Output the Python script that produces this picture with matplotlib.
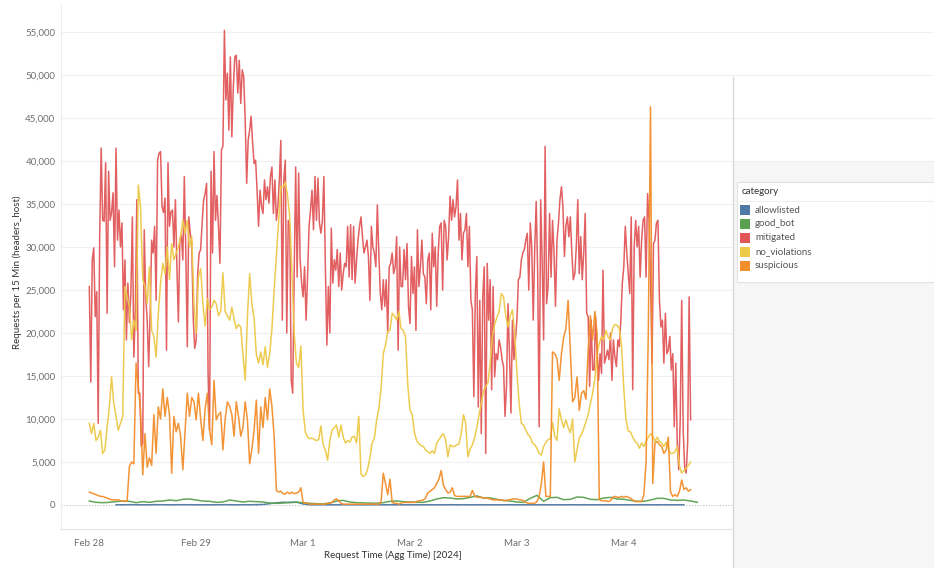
import numpy as np
import pandas as pd
import matplotlib
matplotlib.use("Agg")
import matplotlib.pyplot as plt
import matplotlib.dates as mdates
from matplotlib.patches import Rectangle
from matplotlib.lines import Line2D

plt.rcParams['font.family'] = ['Lato', 'DejaVu Sans']

# ---------------- data (thousands of requests per 15 min) ----------------
categories = ["allowlisted", "good_bot", "mitigated", "no_violations", "suspicious"]
colors = ["#4e79a7", "#59a14f", "#e15759", "#edc948", "#f28e2b"]

# mitigated: 20-minute steps from Feb 28 00:00
mitigated_k = [
    25.4, 14.3, 28.5, 29.9, 21.9, 24.8, 9.5, 31.2, 41.5, 33.1, 33.0, 39.8, 22.3, 38.8, 33.1, 34.0, 36.3, 27.7, 41.5, 30.8,
    34.3, 30.0, 32.8, 22.7, 28.5, 19.2, 25.8, 21.2, 24.6, 33.5, 17.2, 22.7, 35.5, 13.0, 13.0, 6.8, 7.2, 32.0, 24.2, 21.5,
    16.1, 22.3, 30.8, 29.3, 32.4, 23.8, 40.1, 40.9, 41.1, 34.7, 34.0, 35.7, 18.0, 39.8, 32.4, 34.1, 34.3, 30.0, 35.5, 27.7,
    21.3, 30.8, 31.4, 28.5, 38.2, 29.3, 18.4, 33.5, 31.6, 30.5, 21.7,
    18.2, 19.2, 26.9, 29.3, 29.7, 32.8, 35.5, 36.2, 37.4, 15.3, 8.7, 38.8, 29.3, 41.1, 33.1, 36.0, 32.4, 28.1, 41.3, 41.7,
    55.2, 47.1, 50.2, 43.6, 52.1, 42.8, 48.6, 52.1, 52.3, 47.9, 51.7, 46.7, 50.6, 49.8, 44.8, 37.4, 42.4, 43.6, 45.2, 42.1,
    39.7, 40.1, 36.6, 32.4, 36.6, 34.7, 33.9, 37.8, 35.5, 37.0, 35.1, 38.2, 39.3, 33.9, 37.8, 33.1, 34.7, 37.8, 42.4, 21.5,
    37.8, 40.1, 20.0, 33.1, 32.4, 14.5, 13.0, 26.9, 39.3,
    26.5, 38.6, 28.5, 25.8, 24.2, 27.7, 21.5, 26.5, 32.4, 34.3, 36.6, 32.0, 38.2, 33.1, 38.0, 32.8, 31.6, 33.1, 38.2, 27.7,
    18.6, 25.4, 20.0, 32.2, 25.8, 28.5, 27.3, 29.7, 25.4, 29.3, 25.0, 26.9, 28.1, 27.7, 32.4, 26.5, 32.6, 26.2, 32.4, 25.8,
    28.5, 30.8, 32.4, 33.5, 31.2, 29.3, 30.0, 30.8, 28.9, 23.8, 32.4, 30.0, 29.3, 27.7, 34.9, 29.3, 24.6, 22.7, 26.2, 23.1,
    26.2, 20.0, 27.7, 28.1, 29.3, 26.9, 27.7, 31.2, 18.0, 30.0, 25.4,
    25.4, 29.7, 26.2, 30.4, 23.1, 21.1, 28.9, 24.6, 27.7, 20.3, 32.0, 25.4, 27.7, 30.8, 26.9, 26.5, 23.4, 28.5, 29.3, 22.7,
    31.6, 27.7, 30.0, 23.1, 29.3, 32.4, 32.8, 25.0, 33.1, 32.4, 28.5, 31.2, 35.9, 33.1, 35.5, 33.5, 34.7, 37.8, 30.8, 33.9,
    28.5, 31.6, 32.0, 33.9, 27.7, 32.4, 23.8, 22.7, 12.6, 24.6, 28.9, 11.4, 23.8, 8.3, 24.2, 27.7, 6.0, 28.1, 21.5, 26.2,
    13.4, 25.4, 14.9, 17.6, 16.9, 19.2, 18.4, 16.9, 16.1, 10.3,
    13.8, 23.4, 17.6, 10.7, 21.5, 16.9, 19.2, 21.5, 26.2, 26.5, 28.5, 29.3, 29.7, 30.8, 31.6, 25.0, 32.8, 30.0, 21.5, 29.7,
    35.3, 26.9, 9.1, 35.5, 28.5, 19.2, 41.7, 23.4, 25.4, 33.9, 26.5, 33.1, 29.3, 23.1, 30.8, 32.8, 35.5, 37.0, 34.7, 28.9,
    32.4, 33.5, 31.2, 33.5, 29.3, 26.2, 26.9, 30.0, 35.5, 26.9, 31.2, 26.2, 29.3, 33.9, 22.3, 21.9, 13.8, 21.5, 15.7, 15.7,
    21.9, 17.6, 14.5, 17.6, 15.3, 27.3, 16.5, 17.2, 18.0, 16.9,
    20.0, 14.5, 19.2, 17.2, 16.1, 19.2, 18.4, 21.5, 25.8, 27.7, 32.4, 29.3, 26.9, 24.6, 33.5, 13.4, 30.0, 33.1, 30.0, 32.4,
    26.5, 30.8, 33.1, 33.5, 26.5, 36.2, 33.1, 26.2, 16.5, 30.4, 30.8, 32.8, 33.1, 23.8, 20.7, 21.5, 16.5, 22.3, 17.6, 18.0,
    19.6, 15.7, 17.6, 9.1, 16.5, 7.2, 4.1, 9.9, 23.8, 8.7, 4.4, 3.7, 7.2, 24.2, 9.9,
]

# no_violations: 30-minute steps from Feb 28 00:00
no_violations_k = [
    9.5, 8.3, 9.5, 7.5, 7.9, 8.7, 6.0, 6.4, 9.1, 11.4, 14.9, 11.8, 10.3, 8.7, 9.5, 10.3, 25.4, 24.2, 23.1, 19.2,
    21.5, 20.3, 37.2, 34.7, 26.2, 25.4, 23.4, 27.7, 20.3, 19.6, 17.2, 22.3, 25.8, 28.1, 26.9, 30.0, 26.2, 30.4, 28.5, 29.3,
    30.0, 31.2, 33.1, 31.6, 33.1, 30.0, 31.2,
    23.5, 20.0, 26.5, 27.5, 23.4, 20.8, 24.0, 22.7, 23.0, 23.8, 23.4, 22.0, 22.5, 27.0, 22.5, 22.0, 21.5, 23.0, 21.7, 20.5,
    21.0, 20.7, 17.5, 14.5, 21.9, 26.9, 23.4, 21.7, 17.5, 16.5, 17.8, 16.3, 18.4, 16.0, 17.6, 20.5, 25.0, 28.9, 33.0, 37.0,
    37.0, 37.5, 36.0, 33.5, 27.0, 20.0, 16.5,
    16.0, 18.5, 11.0, 8.5, 7.9, 7.7, 7.8, 7.6, 7.5, 7.6, 9.2, 7.0, 6.4, 5.2, 7.5, 8.7, 9.0, 9.3, 7.9, 9.3,
    7.9, 7.2, 7.5, 7.3, 7.9, 8.0, 7.2, 10.3, 3.6, 3.3, 3.5, 4.2, 5.5, 7.2, 7.8, 9.8, 11.2, 13.5, 17.6, 18.6,
    20.2, 20.3, 22.3, 22.0, 21.5, 22.5, 20.5,
    20.3, 19.5, 14.0, 11.0, 10.5, 8.4, 7.5, 7.1, 6.9, 6.8, 6.4, 6.2, 6.0, 6.3, 6.0, 7.2, 7.6, 8.0, 8.3, 7.6,
    5.6, 7.0, 6.8, 6.8, 7.0, 7.1, 8.3, 10.5, 9.5, 5.6, 6.5, 7.0, 7.8, 9.0, 10.5, 11.8, 13.2, 13.8, 14.2, 16.5,
    19.6, 21.0, 21.8, 22.5, 24.6, 24.2, 22.0,
    20.7, 22.0, 22.7, 20.0, 15.5, 11.8, 9.5, 9.3, 8.7, 8.2, 7.9, 7.2, 7.0, 6.6, 6.0, 5.8, 6.8, 7.3, 7.6, 7.7,
    9.6, 8.0, 7.5, 11.2, 9.9, 9.0, 9.9, 9.0, 8.4, 10.0, 5.0, 6.4, 7.8, 8.2, 8.9, 9.7, 10.5, 11.8, 13.0, 14.7,
    17.6, 18.8, 19.6, 19.2, 20.3, 19.5, 19.2,
    20.6, 21.0, 20.9, 20.5, 18.5, 13.5, 9.9, 8.6, 8.5, 7.9, 7.4, 7.2, 6.6, 7.2, 6.8, 7.4, 7.9, 8.3, 8.0, 7.4,
    7.9, 7.4, 7.2, 6.8, 7.3, 6.6, 6.0, 6.0, 6.2, 6.8, 4.5, 3.7, 4.0, 4.3, 4.6, 5.0,
]

# suspicious: 30-minute steps from Feb 28 00:00
suspicious_k = [
    1.5, 1.4, 1.3, 1.2, 1.1, 1.0, 1.0, 0.9, 0.8, 0.7, 0.6, 0.6, 0.6, 0.6, 0.5, 0.5, 0.4, 0.5, 4.5, 5.0,
    4.8, 16.5, 13.8, 11.0, 3.5, 8.3, 4.4, 5.5, 4.6, 10.5, 6.0, 11.4, 10.0, 13.5, 10.3, 12.5, 10.5, 3.7, 10.3, 8.5,
    9.5, 8.0, 4.1, 8.5, 13.0, 10.3, 12.5,
    12.0, 9.9, 13.0, 10.0, 7.5, 11.2, 13.0, 8.7, 7.0, 14.5, 9.9, 10.5, 10.8, 6.4, 10.0, 12.0, 11.5, 10.5, 8.0, 12.0,
    10.3, 8.0, 9.0, 12.0, 9.9, 4.8, 6.5, 8.7, 12.2, 6.0, 11.4, 9.0, 12.5, 9.9, 13.5, 11.5, 8.0, 1.7, 1.5, 1.6,
    1.3, 1.3, 1.5, 1.3, 1.5, 1.3, 1.4,
    1.5, 2.0, 0.3, 0.2, 0.2, 0.1, 0.1, 0.1, 0.1, 0.1, 0.1, 0.1, 0.1, 0.2, 0.2, 0.3, 0.6, 0.7, 0.5, 0.2,
    0.1, 0.1, 0.1, 0.1, 0.1, 0.1, 0.1, 0.1, 0.1, 0.1, 0.1, 0.1, 0.1, 0.1, 0.1, 0.1, 0.1, 0.3, 3.7, 2.5,
    1.2, 3.0, 0.3, 0.2, 0.2, 0.1, 0.2,
    0.3, 0.3, 0.3, 0.3, 0.3, 0.3, 0.4, 0.5, 0.5, 0.6, 0.8, 1.4, 1.6, 1.8, 2.0, 2.5, 3.0, 4.0, 2.3, 1.8,
    1.4, 1.5, 2.0, 1.1, 1.0, 1.0, 1.0, 1.0, 1.0, 1.0, 1.0, 1.7, 1.1, 0.9, 0.9, 0.9, 0.8, 0.8, 0.8, 0.7,
    0.6, 0.6, 0.6, 0.6, 0.6, 0.5, 0.5,
    0.6, 0.6, 0.7, 0.7, 0.7, 0.6, 0.6, 0.5, 0.3, 0.2, 0.2, 0.2, 0.2, 0.4, 1.0, 2.5, 5.0, 1.0, 1.0, 1.0,
    17.8, 17.6, 17.0, 14.5, 17.6, 19.5, 20.5, 23.8, 18.0, 12.0, 12.5, 14.9, 11.0, 13.0, 13.3, 12.3, 18.0, 22.0, 19.2, 22.5,
    20.0, 0.6, 0.5, 0.5, 0.5, 0.4, 0.5,
    0.9, 1.0, 0.9, 0.9, 1.0, 0.9, 1.0, 0.9, 0.8, 0.6, 0.4, 0.4, 0.4, 0.4, 1.2, 5.0, 20.0, 46.3, 2.5, 7.2,
    7.4, 7.0, 6.8, 6.0, 6.4, 7.9, 1.5, 1.0, 1.2, 1.0, 1.6, 2.9, 1.8, 2.0, 1.6, 1.8,
]

# good_bot: 90-minute steps from Feb 28 00:00 (requests)
good_bot = [
    465, 310, 270, 310, 390, 465, 430, 270, 390, 310, 430, 465, 580, 500, 660, 700, 580, 465, 430, 310,
    350, 580, 465, 350, 430, 390, 350, 230, 190, 230, 310, 310, 270, 190, 155, 120, 230, 465, 540, 350,
    270, 250, 220, 200, 270, 430, 465, 390, 350, 310, 310, 465, 700, 850, 815, 700, 740, 890, 1050, 815,
    815, 660, 540, 465, 350, 310, 775, 1125, 430, 850, 890, 620, 660, 930, 890, 660, 620, 815, 890, 700,
    660, 540, 430, 430, 580, 775, 775, 580, 540, 580, 465, 310,
]

# allowlisted: 90-minute steps from Feb 28 06:00 (requests)
allowlisted = [
    30, 25, 35, 30, 20, 30, 40, 30, 25, 30, 35, 30, 25, 30, 20, 30, 35, 30, 25, 30,
    30, 40, 60, 150, 250, 320, 280, 350, 120, 30, 25, 30, 20, 25, 30, 25, 30, 20, 25, 30,
    25, 30, 25, 20, 30, 25, 30, 25, 20, 25, 30, 25, 30, 20, 25, 30, 25, 20, 25, 30,
    25, 30, 20, 25, 30, 25, 20, 25, 30, 25, 30, 20, 25, 30, 25, 20, 25, 30, 25, 30,
    20, 25, 30, 25, 20, 25,
]

x_tick_labels = ["Feb 28", "Feb 29", "Mar 1", "Mar 2", "Mar 3", "Mar 4"]
y_ticks = list(range(0, 55001, 5000))

# ---------------- figure ----------------
W, H = 934, 568
fig = plt.figure(figsize=(W / 100, H / 100), dpi=100)
fig.patch.set_facecolor("white")

def fx(px):
    return px / W

def fy(py):
    return 1 - py / H

ax_l, ax_r, ax_t, ax_b = 61, 934, 5, 529
ax = fig.add_axes([fx(ax_l), fy(ax_b), (ax_r - ax_l) / W, (ax_b - ax_t) / H])
ax.set_facecolor("white")

start = pd.Timestamp("2024-02-28 00:00")
series = {
    "allowlisted": (pd.date_range(start + pd.Timedelta(hours=6), periods=len(allowlisted), freq="90min"),
                    np.array(allowlisted, dtype=float)),
    "good_bot": (pd.date_range(start, periods=len(good_bot), freq="90min"), np.array(good_bot, dtype=float)),
    "mitigated": (pd.date_range(start, periods=len(mitigated_k), freq="20min"), np.array(mitigated_k) * 1000),
    "no_violations": (pd.date_range(start, periods=len(no_violations_k), freq="30min"), np.array(no_violations_k) * 1000),
    "suspicious": (pd.date_range(start, periods=len(suspicious_k), freq="30min"), np.array(suspicious_k) * 1000),
}

for i, (cat, col) in enumerate(zip(categories, colors)):
    t, v = series[cat]
    ax.plot(t, v, color=col, lw=1.1, zorder=3 + i, solid_joinstyle="round", alpha=0.95)

# scales: Feb 28 00:00 at x=89.3 px, 106.9 px per day
px_per_day = 106.9
d0 = mdates.date2num(start)
ax.set_xlim(d0 - (89.3 - ax_l) / px_per_day, d0 + (ax_r - 89.3) / px_per_day)
px_per_unit = 43.0 / 5000
ax.set_ylim(-(ax_b - 505) / px_per_unit, (505 - ax_t) / px_per_unit)

ax.set_xticks([d0 + k for k in range(len(x_tick_labels))])
ax.set_xticklabels(x_tick_labels)
ax.set_yticks(y_ticks)
ax.set_yticklabels([f"{v:,}" for v in y_ticks])
ax.tick_params(axis="both", length=0, labelsize=7, labelcolor="#6e6e6e")
ax.tick_params(axis="x", pad=7)
ax.tick_params(axis="y", pad=4)

for v in y_ticks[1:]:
    ax.axhline(v, color="#f0f0f0", lw=0.8, zorder=1)
ax.axhline(0, color="#c4c4c4", lw=0.8, ls=(0, (1, 1.5)), zorder=2)

for s in ["top", "right"]:
    ax.spines[s].set_visible(False)
ax.spines["left"].set_color("#ececec")
ax.spines["bottom"].set_color("#e6e6e6")
ax.spines["bottom"].set_linestyle((0, (1, 1)))
ax.spines["left"].set_linewidth(0.8)
ax.spines["bottom"].set_linewidth(0.8)

fig.text(fx(17), fy(272), "Requests per 15 Min (headers_host)", rotation=90,
         ha="center", va="center", fontsize=7, color="#333333")
fig.text(fx(393), fy(555), "Request Time (Agg Time) [2024]", ha="center", va="center",
         fontsize=7, color="#333333")

# ---------------- right-hand legend panel ----------------
fig.patches.append(Rectangle((fx(733), 0), 1 - fx(733), fy(162), transform=fig.transFigure,
                             facecolor="#f6f6f6", edgecolor="none", zorder=10))
fig.lines.append(Line2D([fx(733), fx(733)], [fy(568), fy(77)], transform=fig.transFigure,
                        color="#d6d6d6", lw=0.9, zorder=11))
fig.patches.append(Rectangle((fx(737), fy(282)), 1 - fx(737), fy(182) - fy(282), transform=fig.transFigure,
                             facecolor="white", edgecolor="#e2e2e2", lw=0.8, zorder=12))
fig.lines.append(Line2D([fx(737), 1], [fy(201), fy(201)], transform=fig.transFigure,
                        color="#eeeeee", lw=0.8, zorder=13))
fig.text(fx(742), fy(192), "category", ha="left", va="center", fontsize=7, color="#333333", zorder=14)
for k, (cat, col) in enumerate(zip(categories, colors)):
    yc = 210 + 14 * k
    fig.patches.append(Rectangle((fx(740), fy(yc + 5)), 10 / W, 10 / H, transform=fig.transFigure,
                                 facecolor=col, edgecolor="none", zorder=14))
    fig.text(fx(755), fy(yc), cat, ha="left", va="center", fontsize=7, color="#555555", zorder=14)

fig.savefig("out.png", dpi=100, facecolor="white")
